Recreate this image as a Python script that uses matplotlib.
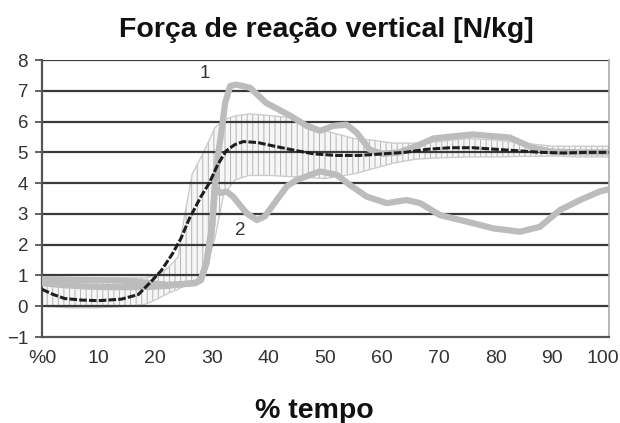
import matplotlib
matplotlib.use("Agg")
import matplotlib.pyplot as plt
from matplotlib.transforms import ScaledTranslation

# % of stance time vs vertical reaction force [N/kg]
mean_x = [0, 2, 4, 7, 10, 14, 17, 19.5, 21, 23, 24.5, 26, 28, 29.5, 31, 32.5, 34, 35.5, 38, 41, 45,
          48, 52, 56, 60, 64, 68, 72, 76, 80, 84, 88, 92, 96, 100]
mean_y = [0.55, 0.38, 0.25, 0.2, 0.18, 0.23, 0.38, 0.85, 1.15, 1.7, 2.2, 2.85, 3.55, 4.0, 4.6, 5.05, 5.25, 5.35, 5.32, 5.2, 5.05,
          4.95, 4.9, 4.9, 4.95, 5.0, 5.1, 5.15, 5.15, 5.1, 5.05, 5.0, 4.98, 5.0, 5.0]

band_x = [0, 5, 10, 15, 18, 20, 22, 24, 25, 26.5, 28.5, 30.5, 32, 34, 36.5, 40, 45, 50, 55, 58, 62, 66,
          70, 75, 80, 85, 90, 95, 100]
band_hi = [0.92, 0.92, 0.92, 0.92, 0.92, 1.0, 1.2, 1.6, 2.8, 4.3, 5.0, 5.8, 6.05, 6.18, 6.25, 6.2, 6.1, 5.7, 5.45, 5.4, 5.3, 5.3,
           5.35, 5.45, 5.4, 5.3, 5.2, 5.2, 5.2]
band_lo = [0.0, -0.05, -0.05, 0.0, 0.05, 0.2, 0.4, 0.55, 0.65, 0.75, 0.95, 2.2, 3.6, 4.1, 4.25, 4.25, 4.2, 4.15, 4.3, 4.45, 4.65, 4.78,
           4.82, 4.85, 4.85, 4.87, 4.88, 4.85, 4.85]

c1_x = [0, 4, 8, 12, 16, 19, 22, 25, 27, 28, 29, 30, 30.5, 31.1, 31.7, 32.3, 33.2, 34.3, 36.7, 39.6, 43.7, 46.7, 49,
        51.4, 53.7, 55.5, 57.8, 60, 63, 66, 69, 72.5, 76, 80, 82.5, 86.5, 90, 95, 100]
c1_y = [0.88, 0.87, 0.85, 0.84, 0.82, 0.75, 0.7, 0.72, 0.75, 0.85, 1.4, 2.6, 3.9, 4.98, 5.74, 6.6, 7.16, 7.2, 7.1, 6.6, 6.2, 5.86, 5.7,
        5.86, 5.9, 5.64, 5.09, 4.95, 5.0, 5.2, 5.45, 5.52, 5.58, 5.52, 5.48, 5.15, 5.02, 5.0, 5.0]

c2_x = [0, 4, 8, 12, 16, 19, 22, 25, 27, 28, 29, 30, 30.5, 31.4, 32.6, 33.7, 36.1, 37.9, 39.3, 41.4, 43.2, 44.9, 49,
        52, 54.3, 57.3, 60.8, 64.3, 66.7, 70.2, 74.9, 79.6, 84.3, 87.8, 91.4, 94.9, 98.4, 100]
c2_y = [0.75, 0.68, 0.64, 0.62, 0.62, 0.63, 0.66, 0.72, 0.76, 0.85, 1.4, 2.6, 3.9, 3.68, 3.72, 3.56, 3.02, 2.8, 2.92, 3.45, 3.9, 4.1, 4.38,
        4.27, 3.94, 3.56, 3.35, 3.45, 3.35, 2.96, 2.75, 2.53, 2.42, 2.58, 3.13, 3.45, 3.73, 3.8]

x_ticks = [0, 10, 20, 30, 40, 50, 60, 70, 80, 90, 100]
x_labels = ["%0", "10", "20", "30", "40", "50", "60", "70", "80", "90", "100"]
y_ticks = [-1, 0, 1, 2, 3, 4, 5, 6, 7, 8]

plt.rcParams["font.family"] = ["Liberation Sans", "DejaVu Sans"]
plt.rcParams["hatch.linewidth"] = 0.7

fig = plt.figure(figsize=(6.2, 4.23), dpi=100)
ax = fig.add_axes([0.0677, 0.2033, 0.9145, 0.6548])

ax.fill_between(band_x, band_lo, band_hi, facecolor="#f6f6f6", edgecolor="#b4b4b4",
                hatch="|||", lw=0.0, zorder=1)
ax.plot(band_x, band_hi, color="#cccccc", lw=1.0, zorder=1)
ax.plot(band_x, band_lo, color="#cccccc", lw=1.0, zorder=1)

for yv in y_ticks[1:]:
    ax.axhline(yv, color="#3a3a3a", lw=1.6, zorder=2)

ax.plot(c1_x, c1_y, color="#bcbcbc", lw=4.5, solid_capstyle="round", zorder=3)
ax.plot(c2_x, c2_y, color="#bcbcbc", lw=4.5, solid_capstyle="round", zorder=3)
ax.plot(mean_x, mean_y, color="#1e1e1e", lw=2.2, linestyle=(0, (2.5, 0.7)), zorder=4)

ax.text(28.7, 7.55, "1", fontsize=13.5, color="#333333", ha="center", va="center", zorder=5)
ax.text(34.9, 2.45, "2", fontsize=13.5, color="#333333", ha="center", va="center", zorder=5)

ax.set_xlim(0, 100)
ax.set_ylim(-1, 8)
ax.set_xticks(x_ticks)
ax.set_xticklabels(x_labels)
ax.set_yticks(y_ticks)
ax.tick_params(axis="x", length=0, pad=9, labelsize=14, labelcolor="#333333")
ax.tick_params(axis="y", length=5, width=1.3, color="#555555", pad=5, labelsize=13.5, labelcolor="#333333")
last = ax.get_xticklabels()[-1]
last.set_transform(last.get_transform() + ScaledTranslation(-6 / 100, 0, fig.dpi_scale_trans))

ax.spines["top"].set_visible(False)
ax.spines["left"].set_color("#555555")
ax.spines["left"].set_linewidth(1.6)
ax.spines["bottom"].set_color("#555555")
ax.spines["bottom"].set_linewidth(1.6)
ax.spines["right"].set_color("#aaaaaa")
ax.spines["right"].set_linewidth(1.2)

fig.text(0.526, 0.913, "Força de reação vertical [N/kg]", fontsize=20.5, fontweight="bold",
         ha="center", va="baseline", color="#111111")
fig.text(0.507, 0.013, "% tempo", fontsize=20.5, fontweight="bold",
         ha="center", va="baseline", color="#111111")

fig.savefig("out.png", dpi=100)
